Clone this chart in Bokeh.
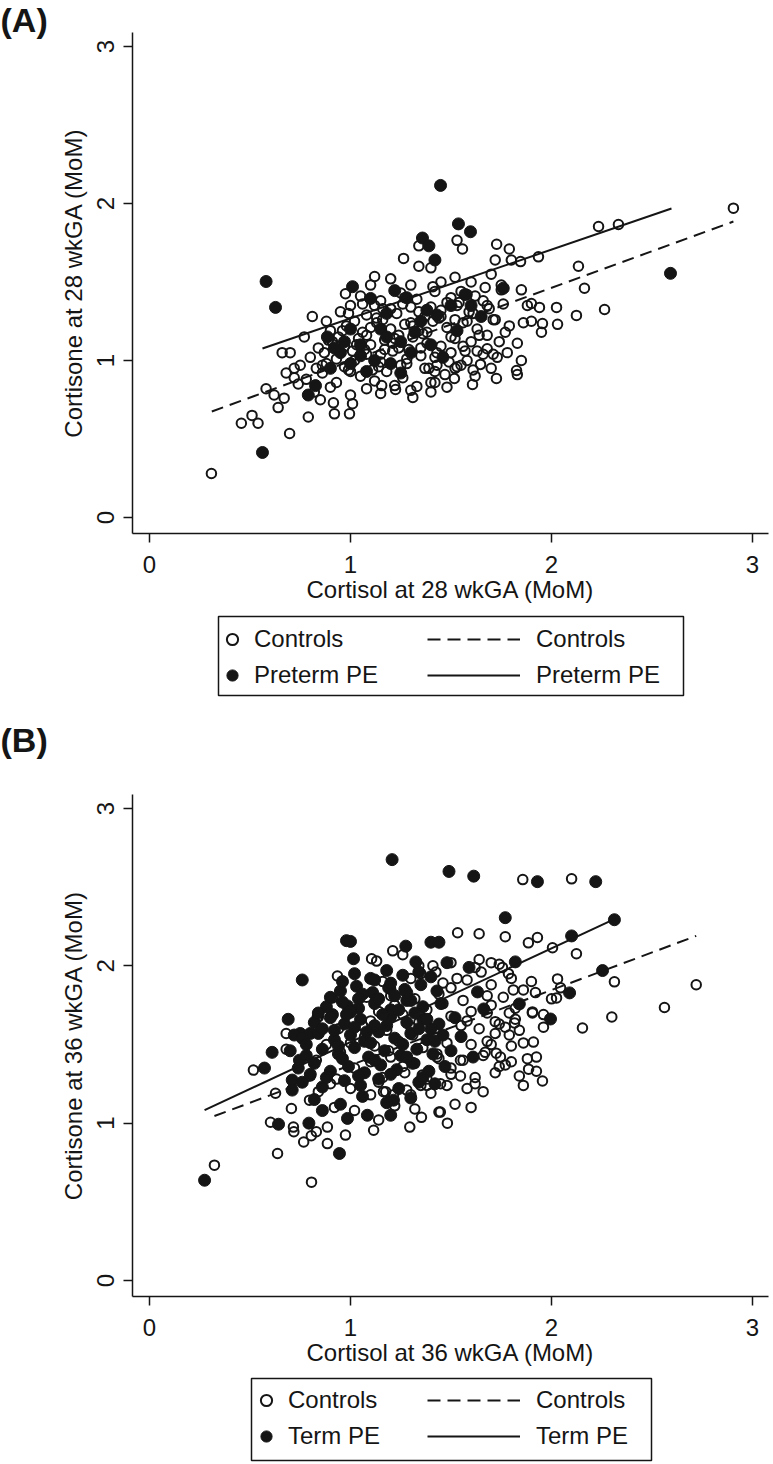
from bokeh.plotting import figure
from bokeh.models import Range1d, FixedTicker, Legend, LegendItem, BoxAnnotation, Title
from bokeh.layouts import column
from bokeh.embed import file_html
from bokeh.resources import INLINE

# ---------------- data ----------------
axis_ticks = [0, 1, 2, 3]
tick_labels = ["0", "1", "2", "3"]

# Panel A: 28 wkGA, Controls (open) and Preterm PE (filled)
a_ctrl_x = [0.81, 0.66, 1.12, 0.975, 1.264, 1.34, 1.34, 1.40, 1.53, 1.557, 1.727, 1.79, 1.72, 1.80, 1.846, 1.935,
            2.234, 2.333, 2.905, 2.134, 2.164, 2.264, 2.124, 2.025, 2.03, 1.955, 1.94, 1.90, 1.86, 1.83, 1.826, 1.83,
            1.726, 1.607, 1.61, 1.647, 1.517, 1.42, 1.40, 1.31, 1.68, 1.74, 1.67, 1.52, 0.308, 0.697, 0.457, 0.51,
            0.54, 0.58, 0.62, 0.67, 0.64, 0.72, 0.75, 0.79, 0.92, 0.995, 1.155, 1.224, 1.33, 1.01, 0.915, 0.85,
            0.82, 0.90, 1.00, 1.08, 1.15, 1.22, 1.30, 1.40, 1.48,
            0.78, 0.86, 0.93, 0.99, 1.05, 1.12, 1.18, 1.26, 1.37, 1.47, 1.55,
            0.80, 0.88, 0.95, 1.02, 1.08, 1.15, 1.21, 1.28, 1.35, 1.43, 1.50, 1.58, 1.66, 1.73,
            0.84, 0.91, 0.97, 1.04, 1.10, 1.17, 1.24, 1.31, 1.38, 1.45, 1.52, 1.60, 1.68, 1.77,
            0.90, 0.98, 1.06, 1.13, 1.20, 1.27, 1.34, 1.41, 1.48, 1.56, 1.63, 1.71, 1.79,
            0.95, 1.08, 1.16, 1.23, 1.30, 1.37, 1.45, 1.53, 1.61, 1.69, 1.76,
            1.05, 1.15, 1.25, 1.33, 1.42, 1.50, 1.58, 1.66, 1.75,
            0.72, 0.70, 0.77, 0.88, 1.00, 1.10, 1.20, 1.30, 1.45, 1.60, 1.70, 1.75, 1.85, 1.88, 1.90, 1.95,
            0.74, 0.68, 1.62, 1.52, 1.42, 1.70, 1.78, 1.85,
            0.83, 0.97, 1.11, 1.25, 1.39, 1.53,
            0.87, 1.01, 1.15, 1.29, 1.43, 1.57, 1.71,
            0.94, 1.08, 1.22, 1.36, 1.50, 1.64,
            1.02, 1.16, 1.30, 1.44, 1.58, 1.72,
            1.12, 1.26, 1.40, 1.54, 1.68,
            0.86, 0.93, 1.00, 1.07, 1.14, 1.21, 1.28, 1.35, 1.42, 1.49, 1.56, 1.63,
            0.89, 0.96, 1.03, 1.10, 1.17, 1.24, 1.31, 1.38, 1.45, 1.52, 1.59,
            0.99, 1.06, 1.13, 1.20, 1.27, 1.34, 1.41, 1.48, 1.55, 1.62]
a_ctrl_y = [1.28, 1.05, 1.535, 1.425, 1.65, 1.73, 1.60, 1.59, 1.765, 1.71, 1.74, 1.71, 1.64, 1.64, 1.63, 1.66,
            1.853, 1.866, 1.97, 1.60, 1.46, 1.325, 1.287, 1.338, 1.23, 1.235, 1.338, 1.363, 1.24, 1.11, 0.936, 0.91,
            0.885, 0.847, 0.94, 0.975, 0.885, 0.86, 0.86, 0.765, 1.075, 1.12, 1.465, 1.53, 0.28, 0.535, 0.60, 0.65,
            0.60, 0.82, 0.78, 0.76, 0.70, 0.89, 0.97, 0.64, 0.66, 0.66, 0.84, 0.815, 0.835, 0.725, 0.73, 0.75,
            0.80, 0.83, 0.78, 0.82, 0.79, 0.84, 0.81, 0.80, 0.83,
            0.88, 0.92, 0.86, 0.94, 0.90, 0.87, 0.93, 0.89, 0.95, 0.91, 0.97,
            1.02, 0.98, 1.05, 1.00, 1.04, 0.99, 1.06, 1.01, 1.03, 0.97, 1.05, 1.00, 1.04, 1.02,
            1.08, 1.12, 1.09, 1.14, 1.10, 1.13, 1.08, 1.15, 1.11, 1.09, 1.14, 1.12, 1.16, 1.18,
            1.19, 1.22, 1.18, 1.24, 1.20, 1.23, 1.19, 1.25, 1.21, 1.24, 1.20, 1.26, 1.22,
            1.31, 1.29, 1.33, 1.30, 1.34, 1.28, 1.32, 1.35, 1.30, 1.33, 1.36,
            1.41, 1.38, 1.43, 1.39, 1.44, 1.40, 1.42, 1.38, 1.45,
            0.95, 1.05, 1.15, 1.25, 1.35, 1.48, 1.52, 1.48, 1.50, 1.50, 1.55, 1.48, 1.45, 1.35, 1.25, 1.18,
            0.85, 0.92, 0.90, 0.95, 0.93, 0.95, 1.05, 1.00,
            0.95, 0.96, 0.94, 0.97, 0.95, 0.96,
            1.05, 1.06, 1.04, 1.07, 1.05, 1.06, 1.04,
            1.15, 1.16, 1.14, 1.17, 1.15, 1.16,
            1.25, 1.26, 1.24, 1.27, 1.25, 1.26,
            1.35, 1.36, 1.34, 1.37, 1.35,
            0.97, 1.01, 0.93, 1.07, 0.96, 1.11, 0.98, 1.08, 1.02, 0.99, 1.09, 1.06,
            1.13, 1.19, 1.10, 1.21, 1.07, 1.16, 1.22, 1.18, 1.28, 1.26, 1.31,
            1.30, 1.36, 1.27, 1.33, 1.40, 1.31, 1.47, 1.37, 1.44, 1.41]
a_pe_x = [1.448, 0.58, 0.627, 1.01, 1.358, 1.39, 1.42, 1.537, 1.597, 1.10, 1.22, 0.885, 1.18, 1.76, 2.592,
          1.57, 1.43, 1.53, 1.46, 0.562, 0.79, 0.826, 0.95, 1.00, 1.05, 1.12, 1.25, 1.30, 1.35, 0.90, 1.15,
          1.60, 1.65, 1.28, 1.00, 0.92, 1.08, 1.20, 1.40, 1.05, 1.18, 1.32, 1.38, 1.50, 0.97, 1.25]
a_pe_y = [2.115, 1.503, 1.338, 1.47, 1.78, 1.73, 1.64, 1.87, 1.82, 1.395, 1.445, 1.15, 1.30, 1.46, 1.555,
          1.42, 1.29, 1.19, 1.02, 0.414, 0.78, 0.84, 1.05, 0.98, 1.10, 1.00, 1.12, 1.05, 1.25, 0.95, 1.20,
          1.35, 1.28, 1.40, 1.20, 1.08, 0.93, 0.98, 1.10, 1.03, 1.15, 1.18, 1.32, 1.35, 1.12, 0.92]
a_fit_ctrl_x = [0.31, 2.905]
a_fit_ctrl_y = [0.675, 1.885]
a_fit_pe_x = [0.562, 2.597]
a_fit_pe_y = [1.076, 1.968]

# Panel B: 36 wkGA, Controls (open) and Term PE (filled)
b_ctrl_x = [0.935, 0.91, 1.105, 1.13, 1.21, 1.26, 1.41, 1.425, 0.835, 1.857, 2.10, 1.533, 1.64, 1.77, 1.885, 1.93,
            2.005, 2.124, 2.313, 2.72, 2.562, 2.30, 2.03, 2.045, 2.025, 1.905, 2.154, 1.81, 1.86, 1.786, 1.53, 1.64,
            1.70, 1.756, 0.323, 0.806, 0.637, 0.517, 0.68, 0.627, 0.706, 0.796, 0.602, 0.716, 0.718, 0.767, 0.805,
            0.83, 0.885, 0.885, 0.975, 1.115, 1.14, 1.295, 1.353, 1.44, 1.482, 0.84, 0.68, 1.164, 1.214, 1.30, 1.35,
            1.448, 1.48, 1.91, 1.925, 1.886, 1.925, 1.955, 1.905, 1.79, 1.816, 1.72, 1.77, 1.72, 1.70, 1.725, 1.77,
            1.746, 1.547, 1.447, 1.357, 1.43, 1.547, 1.175,
            0.92, 1.02, 1.22, 1.32, 1.52, 1.60,
            0.84, 1.00, 1.10, 1.28, 1.40, 1.58, 1.66,
            0.80, 0.93, 1.05, 1.16, 1.27, 1.38, 1.50, 1.62, 1.72, 1.84,
            0.83, 0.96, 1.10, 1.20, 1.32, 1.44, 1.56, 1.66, 1.80, 1.88,
            0.88, 1.00, 1.12, 1.24, 1.36, 1.48, 1.60, 1.68, 1.80, 1.86,
            0.94, 1.06, 1.18, 1.30, 1.42, 1.55, 1.64, 1.74, 1.84, 1.96,
            1.00, 1.14, 1.26, 1.38, 1.50, 1.60, 1.68, 1.82, 1.96,
            1.08, 1.20, 1.32, 1.44, 1.56, 1.68, 1.76, 1.92, 2.00,
            1.16, 1.30, 1.46, 1.58, 1.70, 1.80, 1.90,
            1.34, 1.50, 1.62, 1.74,
            0.90, 1.02, 1.14, 1.26, 1.38, 1.50, 1.62, 1.74, 1.86,
            0.95, 1.07, 1.19, 1.31, 1.43, 1.55, 1.67, 1.79,
            1.10, 1.22, 1.34, 1.46, 1.58, 1.70, 1.82,
            1.20, 1.35, 1.50, 1.65]
b_ctrl_y = [1.935, 1.796, 2.045, 2.03, 2.095, 2.07, 2.00, 1.96, 1.675, 2.548, 2.553, 2.21, 2.204, 2.185, 2.146, 2.18,
            2.115, 2.077, 1.898, 1.88, 1.735, 1.675, 1.917, 1.86, 1.796, 1.707, 1.605, 1.847, 1.847, 1.95, 1.92, 2.04,
            2.02, 1.99, 0.733, 0.625, 0.807, 1.337, 1.47, 1.19, 1.093, 1.146, 1.006, 0.975, 0.945, 0.88, 0.92,
            0.945, 0.975, 0.87, 0.924, 0.955, 1.02, 0.975, 1.037, 1.07, 1.00, 1.675, 1.57, 1.20, 1.18, 1.18, 1.24,
            1.25, 1.24, 1.515, 1.42, 1.343, 1.33, 1.268, 1.70, 1.70, 1.637, 1.645, 1.61, 1.57, 1.50, 1.445, 1.37,
            1.42, 1.30, 1.07, 1.306, 1.42, 1.40, 1.20,
            1.10, 1.08, 1.11, 1.09, 1.12, 1.10,
            1.20, 1.22, 1.18, 1.21, 1.19, 1.22, 1.20,
            1.30, 1.28, 1.31, 1.29, 1.32, 1.28, 1.31, 1.29, 1.32, 1.30,
            1.40, 1.41, 1.39, 1.42, 1.38, 1.41, 1.40, 1.43, 1.39, 1.41,
            1.50, 1.51, 1.49, 1.52, 1.48, 1.51, 1.50, 1.52, 1.49, 1.51,
            1.60, 1.62, 1.59, 1.61, 1.58, 1.62, 1.60, 1.63, 1.59, 1.61,
            1.70, 1.71, 1.69, 1.72, 1.68, 1.71, 1.70, 1.73, 1.69,
            1.80, 1.81, 1.79, 1.82, 1.78, 1.81, 1.80, 1.83, 1.79,
            1.90, 1.92, 1.89, 1.91, 1.88, 1.92, 1.90,
            2.00, 2.02, 1.99, 2.01,
            1.25, 1.35, 1.26, 1.36, 1.24, 1.35, 1.25, 1.36, 1.24,
            1.45, 1.55, 1.46, 1.56, 1.44, 1.55, 1.45, 1.56,
            1.65, 1.75, 1.64, 1.76, 1.65, 1.75, 1.66,
            1.85, 1.95, 1.86, 1.96]
b_pe_x = [1.207, 1.49, 1.613, 1.93, 2.22, 1.77, 2.313, 2.10, 1.82, 2.254, 2.09, 1.84, 1.995, 1.632, 1.663, 1.48,
          1.275, 1.40, 1.44, 1.325, 1.59, 0.98, 1.00, 1.015, 0.76, 0.69, 0.985, 0.274, 0.945, 0.572, 0.61, 0.642,
          0.793, 0.86, 0.985, 1.084, 1.20, 0.71, 0.71, 0.746, 0.75, 0.80, 0.72, 0.91, 1.214, 1.61,
          0.82, 0.95, 1.06, 1.18, 1.30,
          0.76, 0.86, 0.97, 1.05, 1.14, 1.24, 1.34, 1.42,
          0.74, 0.82, 0.90, 0.99, 1.07, 1.15, 1.23, 1.31, 1.39, 1.47,
          0.70, 0.78, 0.86, 0.94, 1.02, 1.09, 1.17, 1.25, 1.33, 1.41, 1.50,
          0.76, 0.84, 0.92, 1.00, 1.07, 1.14, 1.22, 1.30, 1.38, 1.46, 1.55,
          0.82, 0.90, 0.97, 1.05, 1.12, 1.20, 1.28, 1.36, 1.44, 1.52,
          0.88, 0.96, 1.04, 1.12, 1.20, 1.28, 1.36, 1.45,
          0.95, 1.03, 1.11, 1.19, 1.27, 1.35, 1.43,
          1.02, 1.10, 1.18, 1.26, 1.34, 1.40,
          0.80, 0.88, 0.96, 1.04, 1.12, 1.20, 1.28, 1.36,
          0.78, 0.86, 0.94, 1.02, 1.10, 1.18, 1.26, 1.34, 1.42,
          0.84, 0.92, 1.00, 1.08, 1.16, 1.24, 1.32, 1.40,
          0.90, 0.98, 1.06, 1.14, 1.22, 1.30, 1.38,
          0.96, 1.04, 1.12, 1.20, 1.28]
b_pe_y = [2.675, 2.60, 2.57, 2.535, 2.535, 2.306, 2.293, 2.19, 2.025, 1.97, 1.828, 1.758, 1.662, 1.834, 1.726, 2.02,
          2.125, 2.15, 2.15, 2.025, 1.99, 2.16, 2.155, 2.045, 1.91, 1.66, 1.745, 0.637, 0.807, 1.35, 1.45, 0.993,
          1.00, 1.08, 1.03, 1.05, 1.05, 1.274, 1.21, 1.40, 1.57, 1.57, 1.56, 1.69, 1.146, 1.42,
          1.15, 1.12, 1.17, 1.13, 1.16,
          1.26, 1.23, 1.27, 1.24, 1.28, 1.22, 1.26, 1.25,
          1.35, 1.38, 1.33, 1.36, 1.32, 1.37, 1.34, 1.38, 1.33, 1.36,
          1.46, 1.43, 1.47, 1.44, 1.48, 1.42, 1.46, 1.43, 1.47, 1.44, 1.46,
          1.54, 1.57, 1.53, 1.56, 1.52, 1.58, 1.54, 1.57, 1.53, 1.56, 1.55,
          1.64, 1.67, 1.63, 1.66, 1.62, 1.68, 1.64, 1.66, 1.63, 1.67,
          1.74, 1.77, 1.73, 1.76, 1.72, 1.78, 1.74, 1.76,
          1.84, 1.87, 1.83, 1.86, 1.85, 1.88, 1.84,
          1.95, 1.92, 1.97, 1.94, 1.96, 1.93,
          1.31, 1.29, 1.41, 1.30, 1.40, 1.31, 1.42, 1.29,
          1.50, 1.60, 1.49, 1.61, 1.51, 1.62, 1.50, 1.60, 1.52,
          1.70, 1.59, 1.71, 1.58, 1.69, 1.72, 1.70, 1.60,
          1.80, 1.69, 1.82, 1.79, 1.81, 1.78, 1.66,
          1.90, 1.79, 1.91, 1.89, 1.83]
b_fit_ctrl_x = [0.323, 2.72]
b_fit_ctrl_y = [1.045, 2.19]
b_fit_pe_x = [0.274, 2.318]
b_fit_pe_y = [1.083, 2.30]

# ---------------- styling ----------------
FONT = "Liberation Sans"
INK = "#151515"
FS = "24px"
W = 773
BL, BR = 132, 5          # shared left/right borders -> frame spans page x 132..768
X_RANGE = (-0.0846, 3.0796)
Y_RANGE = (-0.102, 3.089)
NAN = [float("nan")]
TAG_OFFSET = -BL


def tag_title(tag, standoff):
    return Title(text=tag, align="left", vertical_align="top", offset=TAG_OFFSET, standoff=standoff,
                 text_font=FONT, text_font_size="34px", text_font_style="bold", text_color=INK)


def scatter_panel(cx, cy, px, py, fcx, fcy, fpx, fpy, xlab, ylab, height, top, bottom, tag=None):
    p = figure(width=W, height=height, x_range=Range1d(*X_RANGE), y_range=Range1d(*Y_RANGE),
               toolbar_location=None, output_backend="svg",
               min_border_left=BL, min_border_right=BR, min_border_top=top, min_border_bottom=bottom)
    p.grid.visible = False
    p.outline_line_color = None
    p.scatter(cx, cy, marker="circle", size=9.5, fill_color=None, line_color=INK, line_width=2)
    p.scatter(px, py, marker="circle", size=12, fill_color=INK, line_color=INK, line_width=1)
    p.line(fcx, fcy, line_color=INK, line_width=2, line_dash="12 7")
    p.line(fpx, fpy, line_color=INK, line_width=2)
    for ax in (p.xaxis[0], p.yaxis[0]):
        ax.ticker = FixedTicker(ticks=axis_ticks)
        ax.major_label_overrides = {t: s for t, s in zip(axis_ticks, tick_labels)}
        ax.minor_tick_line_color = None
        ax.major_tick_in = 0
        ax.major_tick_out = 9
        ax.major_tick_line_width = 1.5
        ax.major_tick_line_color = INK
        ax.axis_line_width = 1.5
        ax.axis_line_color = INK
        ax.major_label_text_font = FONT
        ax.major_label_text_font_size = FS
        ax.major_label_text_color = INK
        ax.axis_label_text_font = FONT
        ax.axis_label_text_font_size = FS
        ax.axis_label_text_font_style = "normal"
        ax.axis_label_text_color = INK
    p.xaxis.axis_label = xlab
    p.yaxis.axis_label = ylab
    p.yaxis.major_label_orientation = "vertical"
    p.xaxis.major_label_standoff = 13
    p.xaxis.axis_label_standoff = 0
    p.yaxis.major_label_standoff = 9
    p.yaxis.axis_label_standoff = 8
    if tag is not None:
        p.add_layout(tag_title(tag, -17), "above")
    return p


def legend_panel(pe_label, height, bottom, box, m_x, rows_y, next_tag=None):
    L = figure(width=W, height=height, x_range=Range1d(0, 1), y_range=Range1d(0, 1),
               toolbar_location=None, output_backend="svg", x_axis_type=None, y_axis_type=None,
               min_border_left=BL, min_border_right=BR, min_border_top=0, min_border_bottom=bottom)
    L.outline_line_color = None
    left, right, top, bot = box
    L.add_layout(BoxAnnotation(left=left, right=right, top=top, bottom=bot,
                               left_units="screen", right_units="screen", top_units="screen",
                               bottom_units="screen", fill_alpha=0, line_color=INK, line_width=1.5,
                               line_alpha=1))
    r_co = L.scatter(x=NAN, y=NAN, marker="circle", fill_color=None, line_color=INK, line_width=2)
    r_pf = L.scatter(x=NAN, y=NAN, marker="circle", fill_color=INK, line_color=INK, line_width=1)
    r_cl = L.line(x=NAN, y=NAN, line_color=INK, line_width=2, line_dash="13 7")
    r_pl = L.line(x=NAN, y=NAN, line_color=INK, line_width=2)
    common = dict(padding=0, margin=0, spacing=8, glyph_height=28, border_line_alpha=0,
                  background_fill_alpha=0, label_text_font=FONT, label_text_font_size=FS,
                  label_text_color=INK)
    leg_m = Legend(items=[LegendItem(label="Controls", renderers=[r_co]),
                          LegendItem(label=pe_label, renderers=[r_pf])],
                   location=(m_x, rows_y), glyph_width=28, label_standoff=8, **common)
    leg_l = Legend(items=[LegendItem(label="Controls", renderers=[r_cl]),
                          LegendItem(label=pe_label, renderers=[r_pl])],
                   location=(295, rows_y), glyph_width=93, label_standoff=16, **common)
    L.add_layout(leg_m)
    L.add_layout(leg_l)
    if next_tag is not None:
        L.add_layout(tag_title(next_tag, 0), "below")
    return L


pA = scatter_panel(a_ctrl_x, a_ctrl_y, a_pe_x, a_pe_y, a_fit_ctrl_x, a_fit_ctrl_y, a_fit_pe_x, a_fit_pe_y,
                   "Cortisol at 28 wkGA (MoM)", "Cortisone at 28 wkGA (MoM)",
                   height=608, top=32, bottom=75, tag="(A)")
lA = legend_panel("Preterm PE", height=153, bottom=41, box=(86, 551, 104, 25), m_x=86, rows_y=31,
                  next_tag="(B)")
pB = scatter_panel(b_ctrl_x, b_ctrl_y, b_pe_x, b_pe_y, b_fit_ctrl_x, b_fit_ctrl_y, b_fit_pe_x, b_fit_pe_y,
                   "Cortisol at 36 wkGA (MoM)", "Cortisone at 36 wkGA (MoM)",
                   height=609, top=33, bottom=74)
lB = legend_panel("Term PE", height=94, bottom=0, box=(119, 519, 86, 4), m_x=120, rows_y=14)

layout = column(pA, lA, pB, lB, spacing=0)
open("out.html", "w").write(file_html(layout, INLINE))
